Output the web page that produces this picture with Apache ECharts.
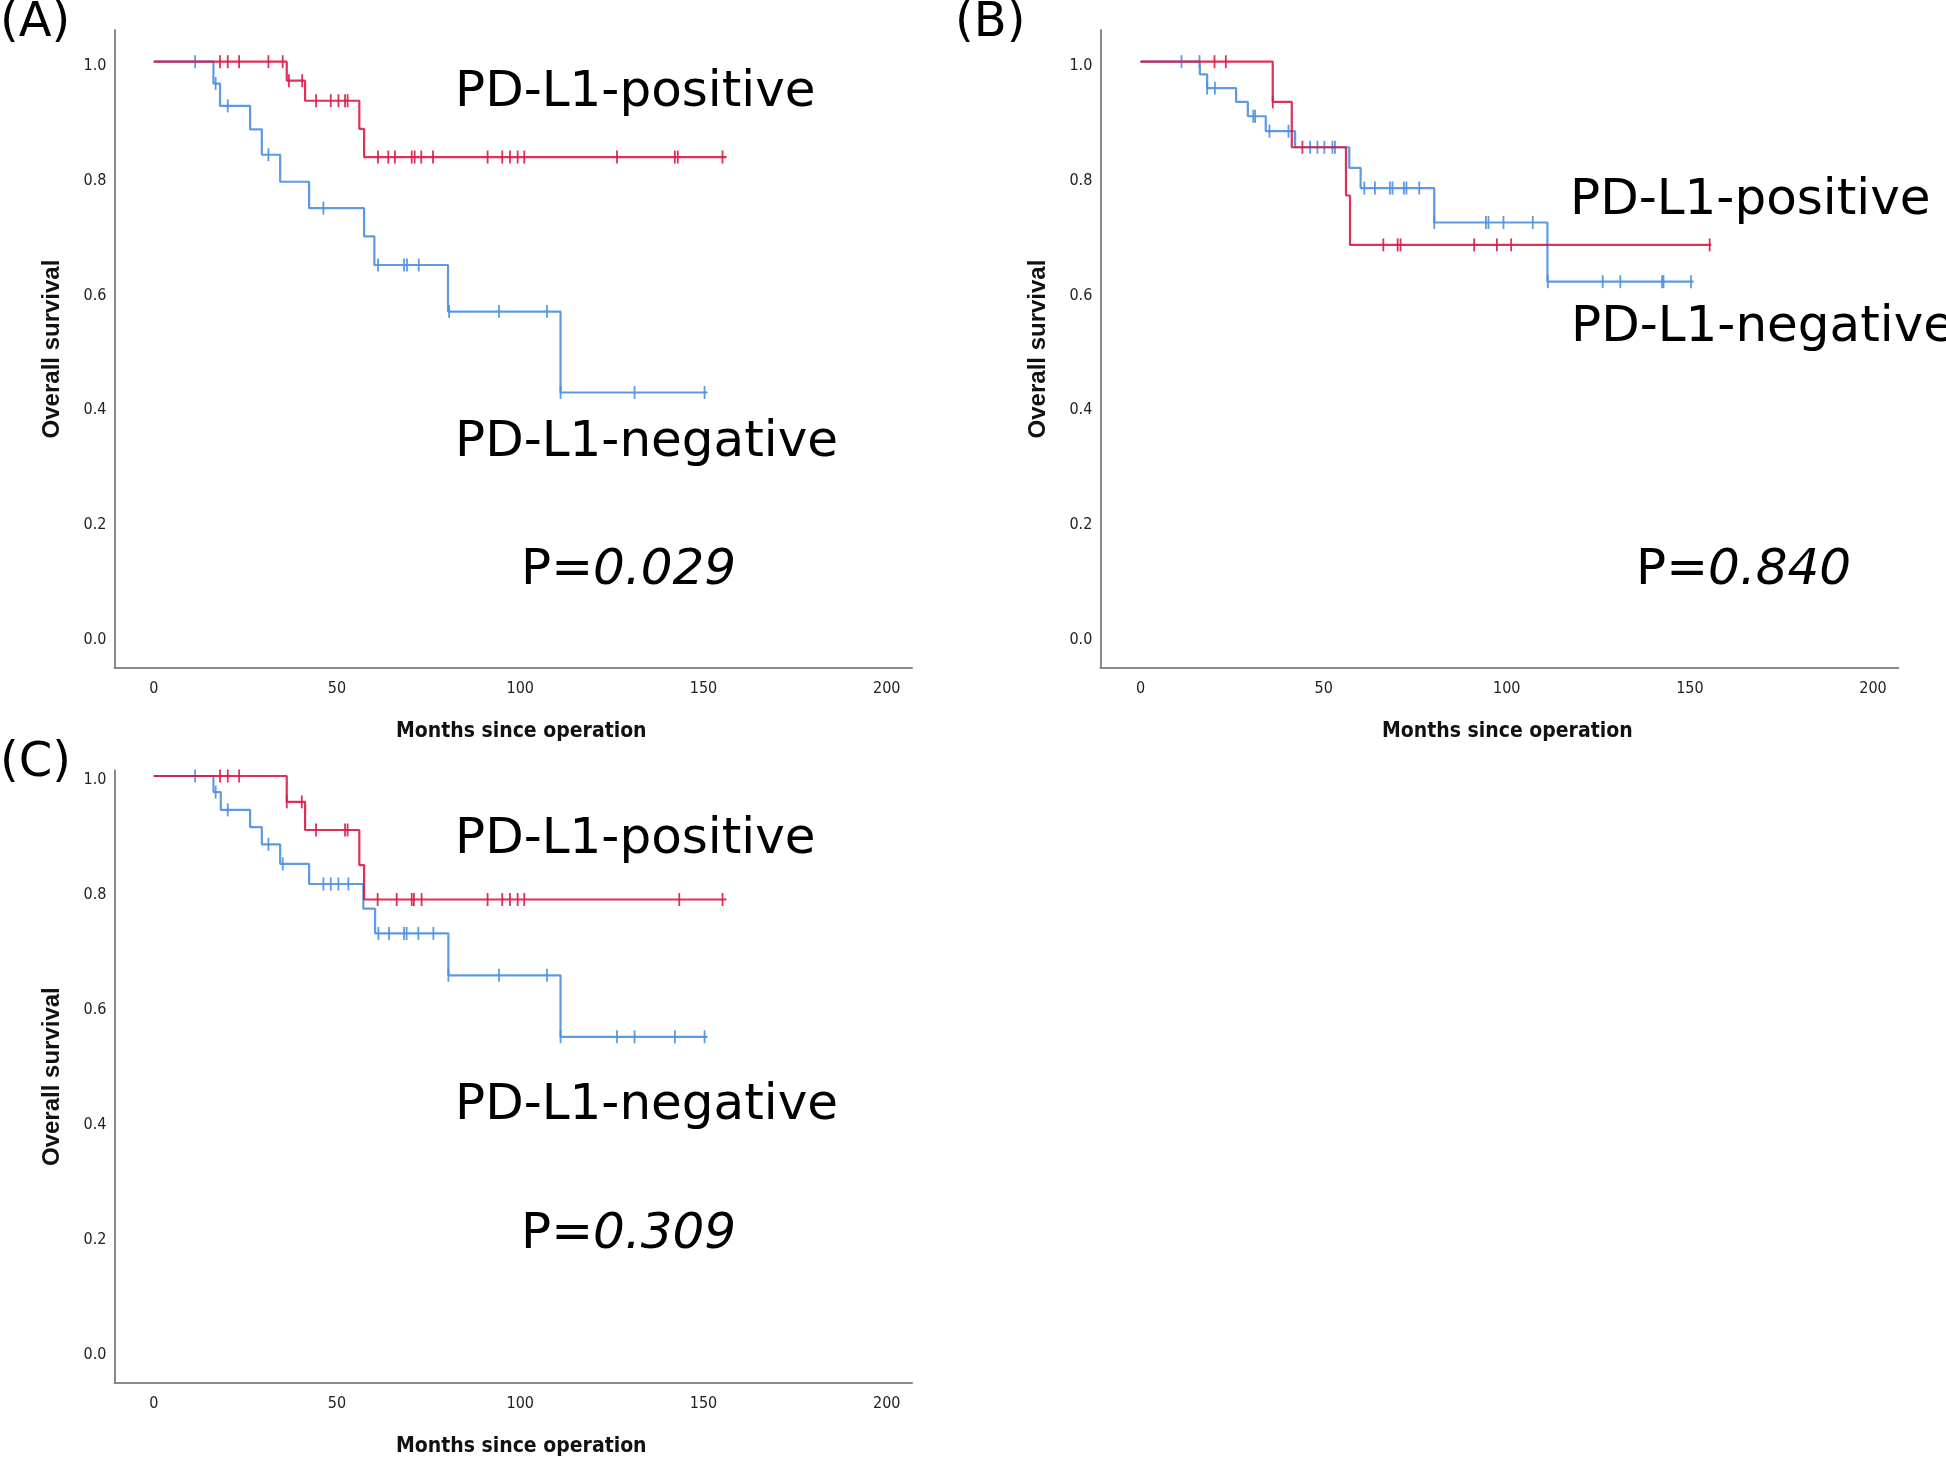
<!DOCTYPE html>
<html>
<head>
<meta charset="utf-8">
<script src="https://cdn.jsdelivr.net/npm/echarts@6/dist/echarts.min.js"></script>
<style>
html, body { margin: 0; background: #fff; }
#chart { width: 1946px; height: 1461px; }
</style>
</head>
<body>
<div id="chart"></div>
<script>
// tick labels
const xTicks = [0, 50, 100, 150, 200];
const yTicks = [0, 0.2, 0.4, 0.6, 0.8, 1.0];

// (A) step times (months) and survival after each step, censor times
const aPosT = [0, 36.3, 41.3, 56.1, 57.4, 156.3];
const aPosS = [1, 0.967, 0.932, 0.883, 0.834, 0.834];
const aPosCens = [18.1, 20.2, 23.3, 31.3, 35.2, 36.9, 40.5, 44.3, 48.3, 50.4, 52.2, 52.9,
    61.2, 64.0, 65.8, 70.4, 71.2, 73.0, 76.2, 91.1, 95.1, 97.2, 99.3, 101.1, 126.4, 142.2, 143.0, 155.2];
const aNegT = [0, 16.3, 18.1, 26.3, 29.5, 34.5, 42.4, 57.4, 60.2, 80.3, 111.0, 151.1];
const aNegS = [1, 0.962, 0.923, 0.882, 0.838, 0.791, 0.745, 0.696, 0.646, 0.565, 0.424, 0.424];
const aNegCens = [11.3, 16.9, 20.2, 31.3, 46.3, 61.2, 68.3, 69.1, 72.3, 80.6, 94.2, 107.3, 111.0, 131.2, 150.3];

// (B)
const bPosT = [0, 36.1, 41.3, 56.1, 57.2, 155.8];
const bPosS = [1, 0.930, 0.851, 0.767, 0.681, 0.681];
const bPosCens = [20.2, 23.3, 36.1, 44.2, 66.3, 70.2, 71.0, 91.1, 97.3, 101.2, 155.4];
const bNegT = [0, 16.2, 18.2, 26.1, 29.3, 34.2, 42.2, 57.0, 60.1, 80.2, 111.1, 151.0];
const bNegS = [1, 0.978, 0.954, 0.930, 0.905, 0.879, 0.851, 0.815, 0.780, 0.720, 0.617, 0.617];
const bNegCens = [11.2, 16.1, 18.2, 20.3, 30.8, 31.3, 35.2, 40.4, 46.3, 48.3, 50.2, 52.4, 53.1,
    61.1, 64.0, 68.1, 68.8, 71.9, 72.6, 76.1, 80.2, 94.3, 95.0, 99.1, 107.1, 111.2, 126.2, 131.0, 142.4, 142.8, 150.3];

// (C)
const cPosT = [0, 36.3, 41.3, 56.1, 57.4, 156.3];
const cPosS = [1, 0.955, 0.906, 0.845, 0.785, 0.785];
const cPosCens = [18.1, 20.2, 23.3, 36.3, 40.4, 44.3, 52.2, 52.9, 61.1, 66.3, 70.4, 71.0, 73.1,
    91.1, 95.1, 97.2, 99.3, 101.1, 143.4, 155.2];
const cNegT = [0, 16.3, 18.3, 26.3, 29.5, 34.5, 42.4, 57.2, 60.4, 80.4, 111.0, 151.1];
const cNegS = [1, 0.972, 0.941, 0.911, 0.881, 0.847, 0.812, 0.769, 0.726, 0.653, 0.546, 0.546];
const cNegCens = [11.3, 16.9, 20.2, 31.3, 35.2, 46.3, 48.3, 50.4, 53.1, 61.3, 64.2, 68.3, 69.0,
    72.2, 76.3, 80.4, 94.2, 107.3, 111.0, 126.4, 131.2, 142.2, 150.3];

const RED = '#dc1a47';
const BLUE = '#4b8fe2';
const AXIS_FONT = "'Liberation Sans Narrow', 'DejaVu Sans Condensed', sans-serif";
const BIG_FONT = "'DejaVu Sans', sans-serif";

// survival level at a censor time, read from the step arrays
function levelAt(times, surv, t) {
    let s = surv[0];
    for (let i = 0; i < times.length; i++) {
        if (times[i] <= t + 1e-9) s = surv[i];
    }
    return s;
}

function curve(times, surv, cens, color, idx) {
    return [
        {
            type: 'line',
            step: 'end',
            xAxisIndex: idx, yAxisIndex: idx,
            data: times.map((t, i) => [t, surv[i]]),
            showSymbol: false,
            lineStyle: { color: color, width: 2.2, opacity: 0.9 },
            silent: true,
            animation: false
        },
        {
            type: 'scatter',
            xAxisIndex: idx, yAxisIndex: idx,
            data: cens.map(t => [t, levelAt(times, surv, t)]),
            symbol: 'rect',
            symbolSize: [1.8, 13],
            itemStyle: { color: color, opacity: 0.9 },
            silent: true,
            animation: false
        }
    ];
}

const grids = [
    { left: 114.5, top: 30, width: 797.5, height: 638 },
    { left: 1100.3, top: 30, width: 798, height: 638 },
    { left: 114.5, top: 770.6, width: 797.5, height: 612 }
];
const xMins = [-10.7, -10.98, -10.7];
const yRanges = [[-0.0557, 1.0552], [-0.0557, 1.0552], [-0.056, 1.0094]];

const xAxes = grids.map((g, i) => ({
    type: 'value',
    gridIndex: i,
    min: xMins[i],
    max: 206.9,
    axisLine: { show: true, onZero: false, lineStyle: { color: '#8a8a8a', width: 2 } },
    axisTick: { show: false },
    splitLine: { show: false },
    axisLabel: {
        customValues: xTicks,
        color: '#222', fontSize: 16, fontFamily: AXIS_FONT, margin: 13
    },
    name: 'Months since operation',
    nameLocation: 'middle',
    nameGap: 53,
    nameTextStyle: {
        color: '#111', fontSize: 21, fontWeight: 'bold', fontFamily: AXIS_FONT,
        padding: [0, 0, 0, 16]
    }
}));

const yAxes = grids.map((g, i) => ({
    type: 'value',
    gridIndex: i,
    min: yRanges[i][0],
    max: yRanges[i][1],
    axisLine: { show: true, onZero: false, lineStyle: { color: '#8a8a8a', width: 2 } },
    axisTick: { show: false },
    splitLine: { show: false },
    axisLabel: {
        customValues: yTicks,
        formatter: v => v.toFixed(1),
        color: '#222', fontSize: 16, fontFamily: AXIS_FONT, margin: 8,
        verticalAlign: 'top', lineHeight: 8
    },
    name: 'Overall survival',
    nameLocation: 'middle',
    nameGap: 50,
    nameRotate: 90,
    nameTextStyle: {
        color: '#111', fontSize: 24, fontWeight: 'bold', fontFamily: "'Liberation Sans', Arial, sans-serif"
    }
}));

const series = [].concat(
    curve(aNegT, aNegS, aNegCens, BLUE, 0),
    curve(aPosT, aPosS, aPosCens, RED, 0),
    curve(bNegT, bNegS, bNegCens, BLUE, 1),
    curve(bPosT, bPosS, bPosCens, RED, 1),
    curve(cNegT, cNegS, cNegCens, BLUE, 2),
    curve(cPosT, cPosS, cPosCens, RED, 2)
);

function big(text, x, y) {
    return {
        type: 'text', left: x, top: y,
        style: { text: text, font: '50px ' + BIG_FONT, fill: '#000', verticalAlign: 'middle' }
    };
}
function pval(num, x, y) {
    return {
        type: 'text', left: x, top: y,
        style: {
            text: '{n|P=}{i|' + num + '}',
            verticalAlign: 'middle',
            rich: {
                n: { fontSize: 50, fontFamily: BIG_FONT, fill: '#000', color: '#000' },
                i: { fontSize: 50, fontFamily: BIG_FONT, fontStyle: 'italic', fill: '#000', color: '#000' }
            }
        }
    };
}

const texts = [
    { type: 'text', left: 0, top: 0, style: { text: '(A)', font: '48px ' + BIG_FONT, fill: '#000' } },
    { type: 'text', left: 955, top: 0, style: { text: '(B)', font: '48px ' + BIG_FONT, fill: '#000' } },
    { type: 'text', left: 0, top: 740, style: { text: '(C)', font: '48px ' + BIG_FONT, fill: '#000' } },
    big('PD-L1-positive', 455, 68),
    big('PD-L1-negative', 455, 418),
    pval('0.029', 521, 546),
    big('PD-L1-positive', 1570, 176),
    big('PD-L1-negative', 1571, 303),
    pval('0.840', 1636, 546),
    big('PD-L1-positive', 455, 815),
    big('PD-L1-negative', 455, 1081),
    pval('0.309', 521, 1210)
];

const chart = echarts.init(document.getElementById('chart'));
chart.setOption({
    backgroundColor: '#fff',
    animation: false,
    grid: grids,
    xAxis: xAxes,
    yAxis: yAxes,
    series: series,
    graphic: texts
});
</script>
</body>
</html>
